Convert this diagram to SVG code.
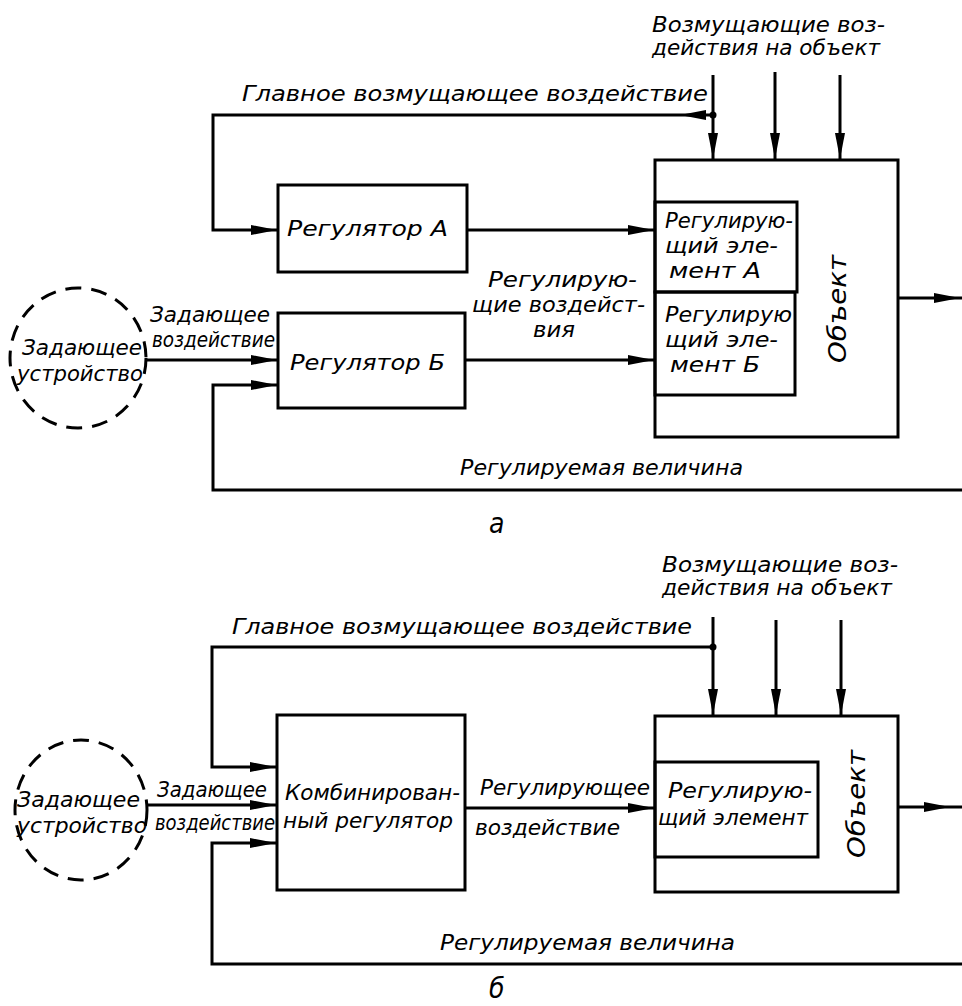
<svg xmlns="http://www.w3.org/2000/svg" width="962" height="1006" viewBox="0 0 962 1006">
<style>
text{font-family:"DejaVu Sans Condensed","Liberation Sans Narrow","Liberation Sans",sans-serif;font-style:italic;font-size:22px;fill:#000}
.big{font-size:28px}
.obj{font-size:24px}
.box{fill:none;stroke:#000;stroke-width:3}
.ln{fill:none;stroke:#000;stroke-width:3}
.ar{fill:none;stroke:#000;stroke-width:3;marker-end:url(#ah)}
.dash{fill:none;stroke:#000;stroke-width:3;stroke-dasharray:16 10}
</style>
<defs>
<marker id="ah" markerUnits="userSpaceOnUse" markerWidth="28" markerHeight="12" refX="26" refY="5" orient="auto">
<path d="M0,0 L26,5 L0,10 Z" fill="#000"/>
</marker>
</defs>
<rect width="962" height="1006" fill="#fff"/>

<!-- Diagram a -->
<g id="setter-a">
<ellipse class="dash" cx="78" cy="358" rx="68" ry="70"/>
<text x="22" y="355" textLength="120" lengthAdjust="spacingAndGlyphs">Задающее</text>
<text x="17" y="381" textLength="126" lengthAdjust="spacingAndGlyphs">устройство</text>
</g>
<g id="reg-a">
<rect class="box" x="278" y="185" width="189" height="87"/>
<text x="287" y="236" textLength="161" lengthAdjust="spacingAndGlyphs">Регулятор А</text>
</g>
<g id="reg-b">
<rect class="box" x="278" y="313" width="187" height="95"/>
<text x="290" y="370" textLength="155" lengthAdjust="spacingAndGlyphs">Регулятор Б</text>
</g>
<g id="object-a">
<rect class="box" x="655" y="160" width="243" height="277"/>
<text class="obj" transform="translate(838,309) rotate(-90)" text-anchor="middle" dominant-baseline="central" textLength="108" lengthAdjust="spacingAndGlyphs">Объект</text>
</g>
<g id="elem-a">
<rect class="box" x="655" y="202" width="142" height="90"/>
<text x="665" y="228" textLength="128" lengthAdjust="spacingAndGlyphs">Регулирую-</text>
<text x="665" y="253" textLength="113" lengthAdjust="spacingAndGlyphs">щий эле-</text>
<text x="669" y="278" textLength="92" lengthAdjust="spacingAndGlyphs">мент А</text>
</g>
<g id="elem-b">
<rect class="box" x="655" y="292" width="140" height="103"/>
<text x="665" y="322" textLength="127" lengthAdjust="spacingAndGlyphs">Регулирую</text>
<text x="665" y="347" textLength="113" lengthAdjust="spacingAndGlyphs">щий эле-</text>
<text x="670" y="372" textLength="90" lengthAdjust="spacingAndGlyphs">мент Б</text>
</g>
<g id="labels-a">
<text x="652" y="32" textLength="233" lengthAdjust="spacingAndGlyphs">Возмущающие воз-</text>
<text x="652" y="55" textLength="228" lengthAdjust="spacingAndGlyphs">действия на объект</text>
<text x="242" y="101" textLength="466" lengthAdjust="spacingAndGlyphs">Главное возмущающее воздействие</text>
<text x="150" y="322" textLength="120" lengthAdjust="spacingAndGlyphs">Задающее</text>
<text x="152" y="347" textLength="123" lengthAdjust="spacingAndGlyphs">воздействие</text>
<text x="488" y="287" textLength="149" lengthAdjust="spacingAndGlyphs">Регулирую-</text>
<text x="472" y="312" textLength="173" lengthAdjust="spacingAndGlyphs">щие воздейст-</text>
<text x="533" y="337" textLength="42" lengthAdjust="spacingAndGlyphs">вия</text>
<text x="460" y="475" textLength="283" lengthAdjust="spacingAndGlyphs">Регулируемая величина</text>
<text class="big" x="489" y="533">а</text>
</g>

<!-- Diagram b -->
<g id="setter-b">
<ellipse class="dash" cx="81" cy="810" rx="66" ry="70"/>
<text x="17" y="807" textLength="123" lengthAdjust="spacingAndGlyphs">Задающее</text>
<text x="17" y="833" textLength="130" lengthAdjust="spacingAndGlyphs">устройство</text>
</g>
<g id="combined">
<rect class="box" x="277" y="715" width="188" height="175"/>
<text x="285" y="800" textLength="175" lengthAdjust="spacingAndGlyphs">Комбинирован-</text>
<text x="283" y="828" textLength="170" lengthAdjust="spacingAndGlyphs">ный регулятор</text>
</g>
<g id="object-b">
<rect class="box" x="655" y="716" width="243" height="176"/>
<text class="obj" transform="translate(857,804) rotate(-90)" text-anchor="middle" dominant-baseline="central" textLength="108" lengthAdjust="spacingAndGlyphs">Объект</text>
</g>
<g id="elem">
<rect class="box" x="655" y="762" width="163" height="95"/>
<text x="668" y="798" textLength="144" lengthAdjust="spacingAndGlyphs">Регулирую-</text>
<text x="658" y="825" textLength="150" lengthAdjust="spacingAndGlyphs">щий элемент</text>
</g>
<g id="labels-b">
<text x="662" y="572" textLength="236" lengthAdjust="spacingAndGlyphs">Возмущающие воз-</text>
<text x="662" y="595" textLength="230" lengthAdjust="spacingAndGlyphs">действия на объект</text>
<text x="232" y="634" textLength="460" lengthAdjust="spacingAndGlyphs">Главное возмущающее воздействие</text>
<text x="157" y="797" textLength="110" lengthAdjust="spacingAndGlyphs">Задающее</text>
<text x="155" y="830" textLength="120" lengthAdjust="spacingAndGlyphs">воздействие</text>
<text x="480" y="795" textLength="170" lengthAdjust="spacingAndGlyphs">Регулирующее</text>
<text x="475" y="835" textLength="145" lengthAdjust="spacingAndGlyphs">воздействие</text>
<text x="440" y="950" textLength="295" lengthAdjust="spacingAndGlyphs">Регулируемая величина</text>
<text class="big" x="489" y="998">б</text>
</g>

<g id="connectors">
<!-- a -->
<path class="ar" d="M713,115 H213 V230 H277"/>
<path d="M680,115 L706,110 L706,120 Z" fill="#000"/>
<circle cx="713" cy="115" r="3.5" fill="#000"/>
<path class="ar" d="M713,75 V159"/>
<path class="ar" d="M775,72 V159"/>
<path class="ar" d="M840,75 V159"/>
<path class="ar" d="M467,230 H654"/>
<path class="ar" d="M465,360 H654"/>
<path class="ar" d="M147,360 H277"/>
<path class="ar" d="M962,490 H213 V385 H277"/>
<path class="ln" d="M898,298 H962"/>
<path d="M960,298 L934,293 L934,303 Z" fill="#000"/>
<!-- b -->
<path class="ar" d="M713,647 H212 V767 H276"/>
<circle cx="713" cy="647" r="3.5" fill="#000"/>
<path class="ar" d="M713,617 V715"/>
<path class="ar" d="M776,620 V715"/>
<path class="ar" d="M841,620 V715"/>
<path class="ar" d="M147,805 H276"/>
<path class="ar" d="M962,964 H212 V843 H276"/>
<path class="ar" d="M465,808 H654"/>
<path class="ln" d="M898,807 H962"/>
<path d="M950,807 L924,802 L924,812 Z" fill="#000"/>
</g>
</svg>
